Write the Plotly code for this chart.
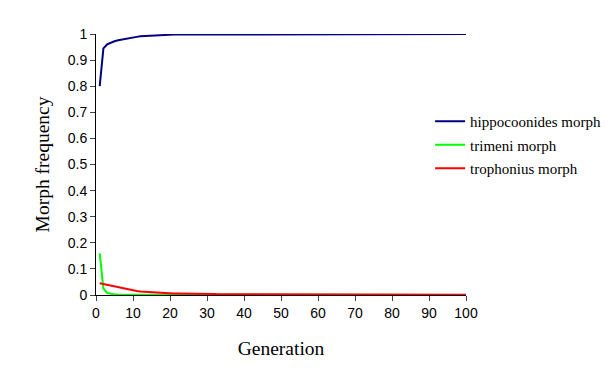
import plotly.graph_objects as go

generations = list(range(1, 101))

hippocoonides = [
    0.800, 0.945, 0.960, 0.967, 0.972, 0.976, 0.979, 0.982, 0.985, 0.987,
    0.989, 0.991, 0.992, 0.993, 0.994, 0.995, 0.996, 0.997, 0.997, 0.998,
    0.998, 0.998, 0.998, 0.999, 0.999, 0.999, 0.999, 0.999, 0.999, 0.999,
    0.999, 0.999, 1.000, 1.000, 1.000, 1.000, 1.000, 1.000, 1.000, 1.000,
] + [1.000] * 60

trimeni = [
    0.160, 0.025, 0.008, 0.004, 0.002, 0.0015, 0.001, 0.001, 0.001, 0.001,
    0.001, 0.001, 0.001, 0.001, 0.001, 0.001, 0.001, 0.000, 0.000, 0.000,
] + [0.000] * 80

trophonius = [
    0.045, 0.042, 0.038, 0.034, 0.031, 0.028, 0.025, 0.022, 0.019, 0.017,
    0.015, 0.013, 0.012, 0.011, 0.010, 0.009, 0.008, 0.007, 0.007, 0.006,
    0.006, 0.006, 0.006, 0.005, 0.005, 0.005, 0.005, 0.005, 0.005, 0.005,
    0.005, 0.004, 0.003, 0.003, 0.003, 0.003, 0.002, 0.002, 0.002, 0.002,
] + [0.002] * 20 + [0.001] * 20 + [0.001] * 20

series = [
    ("hippocoonides morph", hippocoonides, "#000080"),
    ("trimeni morph", trimeni, "#00FF00"),
    ("trophonius morph", trophonius, "#FF0000"),
]

fig = go.Figure()
for i, (name, vals, col) in enumerate(series):
    fig.add_trace(go.Scatter(x=generations, y=vals, mode="lines", name=name,
                             line=dict(color=col, width=2), legendgroup=str(i)))

fig.update_layout(
    width=615, height=375,
    paper_bgcolor="white", plot_bgcolor="white",
    margin=dict(l=88, r=157, t=26, b=88),
    font=dict(family="Liberation Serif", color="black"),
    legend=dict(x=0.903, xanchor="left", y=0.728, yanchor="top",
                font=dict(family="Liberation Serif", size=15),
                bgcolor="rgba(0,0,0,0)", tracegroupgap=1),
    showlegend=True,
)
fig.update_xaxes(range=[0, 100], tick0=0, dtick=10, ticks="outside", ticklen=5,
                 showline=True, linecolor="black", linewidth=1, showgrid=False,
                 zeroline=False, tickfont=dict(family="Liberation Sans", size=14),
                 title=dict(text="Generation", font=dict(family="Liberation Serif", size=19.5), standoff=21))
fig.update_yaxes(range=[0, 1], tick0=0, dtick=0.1, ticks="outside", ticklen=5,
                 showline=True, linecolor="black", linewidth=1, showgrid=False,
                 zeroline=False, tickfont=dict(family="Liberation Sans", size=14),
                 title=dict(text="Morph frequency", font=dict(family="Liberation Serif", size=19.5), standoff=12))

fig.write_html("out.html")
